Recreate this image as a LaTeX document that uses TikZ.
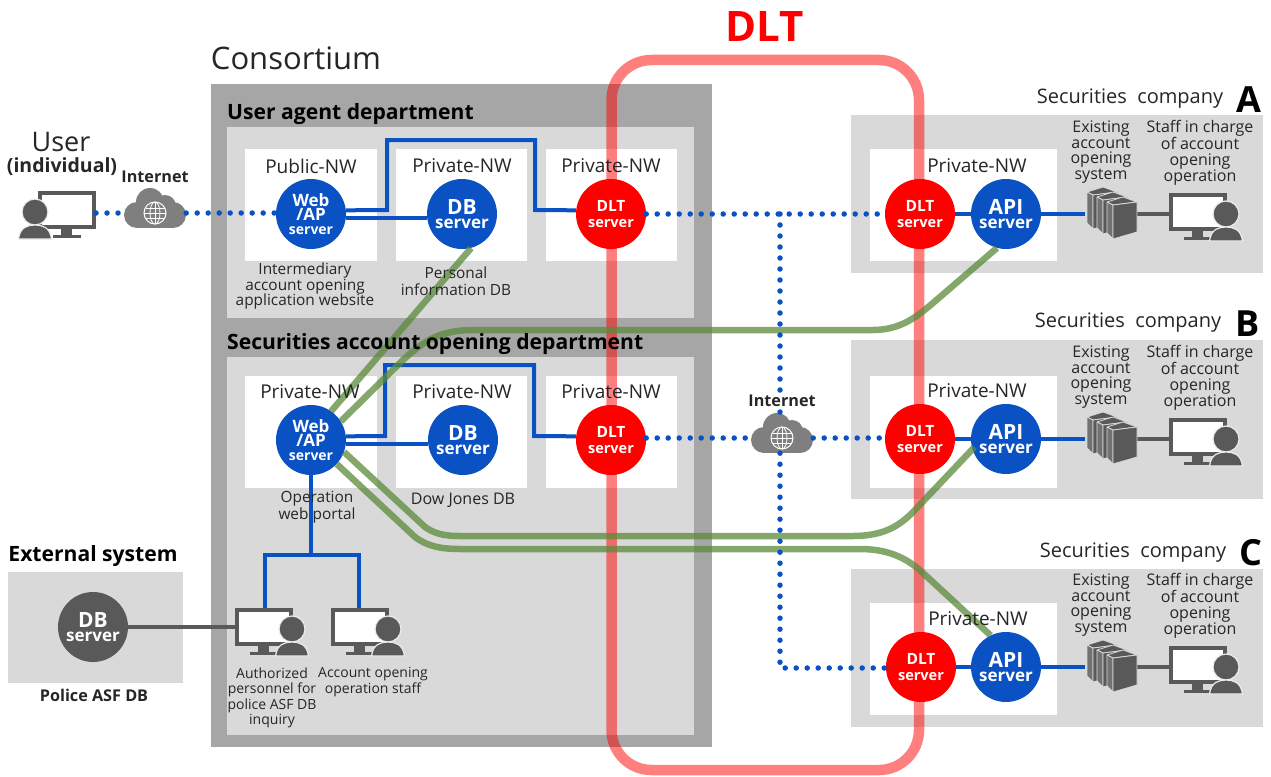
\documentclass[tikz,border=0pt]{standalone}
\usepackage{fontspec}
\setmainfont{Open Sans}
\usetikzlibrary{calc}
\definecolor{bluec}{HTML}{0A52C4}
\definecolor{redc}{HTML}{FF0000}
\definecolor{darkg}{HTML}{595959}
\definecolor{cloudg}{HTML}{7F7F7F}
\definecolor{outerg}{HTML}{A6A6A6}
\definecolor{innerg}{HTML}{D9D9D9}
\definecolor{greenc}{HTML}{5B8A3A}
\definecolor{txt}{HTML}{262626}
\pgfdeclarelayer{panel}\pgfdeclarelayer{band}\pgfdeclarelayer{conn}\pgfdeclarelayer{greenl}\pgfdeclarelayer{labels}
\pgfsetlayers{panel,band,conn,main,greenl,labels}
\tikzset{
  srv/.style={circle,minimum size=70pt,inner sep=0pt,text=white,align=center,font=\bfseries},
  bsrv/.style={srv,fill=bluec},
  rsrv/.style={srv,fill=redc},
  gsrv/.style={srv,fill=darkg},
  wbox/.style={fill=white},
  bl/.style={draw=bluec,line width=4pt,line join=miter},
  gl/.style={draw=darkg,line width=4pt},
  grn/.style={draw=greenc,line width=6.5pt,opacity=.75},
  dots/.style={draw=bluec,line width=5.5pt,line cap=round,dash pattern=on 0pt off 11pt},
  nw/.style={font=\fontsize{19}{19}\selectfont,text=txt,inner sep=0pt},
  lab/.style={font=\fontsize{15.4}{15.5}\selectfont,text=txt,align=center,inner sep=0pt},
  labs/.style={font=\fontsize{14}{15.5}\selectfont,text=txt,align=center,inner sep=0pt},
  labl/.style={font=\fontsize{16}{15.5}\selectfont,text=txt,align=center,inner sep=0pt},
  labb/.style={font=\fontsize{16.2}{17}\selectfont\bfseries,text=txt,inner sep=0pt},
  ttl/.style={font=\fontsize{21.1}{22}\selectfont\bfseries,text=black,anchor=west,inner sep=0pt},
  sec/.style={font=\fontsize{20}{22}\selectfont,text=txt,inner sep=0pt},
  letter/.style={font=\fontsize{36}{36}\selectfont\bfseries,text=black,inner sep=0pt},
  mon/.style={draw=darkg,line width=4pt,fill=white,minimum width=54pt,minimum height=34pt,inner sep=0pt},
  rackbox/.style={minimum width=52pt,minimum height=54pt,inner sep=0pt},
  cloudbox/.style={minimum width=62pt,minimum height=30pt,inner sep=0pt},
}
\newcommand{\twolab}[2]{\fontsize{21}{16}\selectfont #1\\[1.5pt]\fontsize{17}{16}\selectfont #2}
\newcommand{\dltlab}{\fontsize{15.5}{18}\selectfont DLT\\[4pt]\fontsize{14.5}{18}\selectfont server}
\newcommand{\weblab}{\fontsize{17}{15}\selectfont Web\\[1pt]\fontsize{17}{15}\selectfont /AP\\[1.5pt]\fontsize{14}{15}\selectfont server}
% monitor + person: name, monitor left, monitor top, head x
\newcommand{\staffic}[4]{%
  \node[mon,anchor=north west] (#1) at (#2,#3) {};
  \fill[darkg] (#2+23,#3+38) rectangle (#2+34,#3+44);
  \fill[darkg] (#2+15,#3+44) rectangle (#2+43,#3+47);
  \filldraw[fill=darkg,draw=innerg!50,line width=1.2pt] (#4,#3+21) circle (13pt);
  \filldraw[fill=darkg,draw=innerg!50,line width=1.2pt] (#4-16.5,#3+48) .. controls (#4-15,#3+36) and (#4-7,#3+34) .. (#4,#3+34) .. controls (#4+7,#3+34) and (#4+15,#3+36) .. (#4+16.5,#3+48) -- cycle;
}
\newcommand{\onerack}[2]{%
  \filldraw[fill=darkg,draw=innerg,line width=.8pt,line join=round] (#1-30,#2-12) -- (#1-14,#2-17) -- (#1,#2-12) -- (#1-24,#2-9) -- cycle;
  \filldraw[fill=darkg!85,draw=innerg,line width=.8pt,line join=round] (#1-30,#2-12) -- (#1-24,#2-9) -- (#1-24,#2+25) -- (#1-30,#2+19) -- cycle;
  \filldraw[fill=darkg,draw=innerg,line width=.8pt,line join=round] (#1-24,#2-9) -- (#1,#2-12) -- (#1,#2+18) -- (#1-24,#2+25) -- cycle;
}
\newcommand{\rackic}[2]{% name, centre y
  \node[rackbox] (#1) at (1111,#2) {};
  \onerack{1117}{#2-10}
  \onerack{1127}{#2-5}
  \onerack{1137}{#2}
}
\newcommand{\cloudic}[3]{% name, x, y of cloud centre
  \node[cloudbox] (#1) at (#2,#3+5) {};
  \fill[cloudg] (#2-18,#3+7) circle (13pt);
  \fill[cloudg] (#2+18,#3+7) circle (13pt);
  \fill[cloudg] (#2-5,#3-6) circle (14pt);
  \fill[cloudg] (#2+10,#3-2) circle (11pt);
  \fill[cloudg] (#2-18,#3+2) rectangle (#2+18,#3+20);
  \draw[white,line width=1pt] (#2,#3+5) circle (11pt);
  \draw[white,line width=.8pt] (#2,#3+5) ellipse (5pt and 11pt);
  \draw[white,line width=.8pt] (#2-11,#3+5) -- (#2+11,#3+5) (#2,#3-6) -- (#2,#3+16) (#2-9.5,#3) -- (#2+9.5,#3) (#2-9.5,#3+10) -- (#2+9.5,#3+10);
}
\begin{document}
\begin{tikzpicture}[x=1pt,y=-1pt]
\useasboundingbox (0,0) rectangle (1271,776);

\begin{pgfonlayer}{panel}
\fill[white] (0,0) rectangle (1271,776);
\fill[outerg] (211,84) rectangle (712,747);
\fill[innerg] (227,127) rectangle (694,318);
\fill[innerg] (227,357) rectangle (694,735);
\fill[innerg] (8,572) rectangle (183,683);
\fill[innerg] (851,115) rectangle (1263,273);
\fill[innerg] (851,340) rectangle (1263,499);
\fill[innerg] (851,569) rectangle (1263,727);
\foreach \y in {149,376}{
  \fill[wbox] (245,\y) rectangle (377,\y+112);
  \fill[wbox] (396,\y) rectangle (527,\y+112);
  \fill[wbox] (546,\y) rectangle (677,\y+112);
}
\fill[wbox] (870,149) rectangle (1057,261);
\fill[wbox] (870,376) rectangle (1057,488);
\fill[wbox] (870,603) rectangle (1057,715);
\end{pgfonlayer}

\begin{pgfonlayer}{band}
\draw[redc,line width=10.5pt,opacity=.5,rounded corners=40pt] (611.5,60) rectangle (919,770);
\end{pgfonlayer}

\node[bsrv] (w1) at (311,214) {\weblab};
\node[bsrv] (db1) at (462,214) {\twolab{DB}{server}};
\node[rsrv] (d1) at (611,214) {\dltlab};
\node[bsrv] (w2) at (311,440) {\weblab};
\node[bsrv] (db2) at (463,440) {\twolab{DB}{server}};
\node[rsrv] (d2) at (611,440) {\dltlab};
\node[rsrv] (da) at (920,214) {\dltlab};
\node[bsrv] (aa) at (1006,214) {\twolab{API}{server}};
\node[rsrv] (db) at (920,439) {\dltlab};
\node[bsrv] (ab) at (1006,439) {\twolab{API}{server}};
\node[rsrv] (dc) at (921,667) {\dltlab};
\node[bsrv] (ac) at (1006,667) {\twolab{API}{server}};
\node[gsrv] (ext) at (93,627) {\twolab{DB}{server}};

\staffic{user}{38}{191}{35}
\cloudic{c1}{155}{208}
\cloudic{c2}{782}{433}
\staffic{ins}{235}{608}{292}
\staffic{ops}{331}{608}{388}
\rackic{ra}{214}
\rackic{rb}{439}
\rackic{rc}{667}
\staffic{sa}{1169}{193}{1226}
\staffic{sb}{1169}{418}{1226}
\staffic{sc}{1169}{646}{1226}

\coordinate (jt) at (780,214);
\coordinate (jb) at (780,668);

\begin{pgfonlayer}{conn}
\draw[bl] (w1.6) -- (387,210) -- (387,140) -- (535,140) -- (535,210) -- (d1.174);
\draw[bl] (w1.353) -- (w1.353 -| db1.west);
\draw[bl] (w2.6) -- (385,436) -- (385,365) -- (534,365) -- (534,436) -- (d2.174);
\draw[bl] (w2.354) -- (w2.354 -| db2.west);
\draw[bl] (w2.south) -- (311,555);
\draw[bl] (265,608) -- (265,555) -- (359,555) -- (359,608);
\draw[bl] (da.east) -- (aa.west);
\draw[bl] (db.east) -- (ab.west);
\draw[bl] (dc.east) -- (ac.west);
\draw[bl] (aa.east) -- (ra.west);
\draw[bl] (ab.east) -- (rb.west);
\draw[bl] (ac.east) -- (rc.west);
\draw[gl] (ra.east) -- (ra.east -| sa.west);
\draw[gl] (rb.east) -- (rb.east -| sb.west);
\draw[gl] (rc.east) -- (rc.east -| sc.west);
\draw[gl] (ext.east) -- (ext.east -| ins.west);
\end{pgfonlayer}

\begin{pgfonlayer}{greenl}
\draw[grn] (w2.55) -- (db1.285);
\draw[grn] (w2.32) -- (403,360) .. controls (425,340) and (440,330) .. (475,330) -- (873,330) .. controls (905,330) and (922,312) .. (940,297) -- (aa.255);
\draw[grn,shorten >=-3pt] (w2.-20) -- (425,527) .. controls (434,533) and (442,536) .. (460,536) -- (853,536) .. controls (885,536) and (900,525) .. (913,512) -- (ab.197);
\draw[grn] (w2.-43) -- (415,537) .. controls (427,546) and (440,549) .. (460,549) -- (860,549) .. controls (885,549) and (905,556) .. (923,573) -- (ac.116);
\draw[dots] (user.east |- c1.west) -- (c1.west);
\draw[dots] (c1.east) -- (c1.east -| w1.west);
\draw[dots] (d1.east) -- (da.west);
\draw[dots] (jt) -- (jt |- c2.north);
\draw[dots] (jt |- c2.south) -- (jb) -- (jb -| dc.west);
\draw[dots] (d2.east |- c2.west) -- (c2.west);
\draw[dots] (c2.east) -- (c2.east -| db.west);
\end{pgfonlayer}

\begin{pgfonlayer}{labels}
\node[inner sep=0pt,text=redc,font=\fontsize{42}{44}\selectfont\bfseries] (dlt) at (765,27) {DLT};
\node[inner sep=0pt,text=txt,font=\fontsize{31}{32}\selectfont] (cons) at (296,58) {Consortium};
\node[ttl] (t1) at (227,114) {User agent department};
\node[ttl] (t2) at (227,344) {Securities account opening department};
\node[ttl,anchor=center] (t3) at (93,556) {External system};
\node[inner sep=0pt,text=txt,font=\fontsize{27}{28}\selectfont] (u1) at (61,142) {User};
\node[inner sep=0pt,text=txt,font=\fontsize{19.5}{20}\selectfont\bfseries] (u2) at (62,167) {(individual)};
\node[labb] (i1) at (155,177) {Internet};
\node[labb,fill=white,inner sep=1pt] (i2) at (782,401) {Internet};
\node[nw] (n1) at (311,166) {Public-NW};
\node[nw] (n2) at (462,166) {Private-NW};
\node[nw] (n3) at (611,166) {Private-NW};
\node[nw] (n4) at (310,392) {Private-NW};
\node[nw] (n5) at (462,392) {Private-NW};
\node[nw] (n6) at (611,392) {Private-NW};
\node[nw] (n7) at (977,166) {Private-NW};
\node[nw] (n8) at (977,391) {Private-NW};
\node[nw] (n9) at (978,619) {Private-NW};
\node[lab] (l1) at (305,286) {Intermediary\\account opening\\application website};
\node[lab] (l2) at (456,281) {Personal\\[1.5pt]information DB};
\node[lab] (l3) at (317,507) {Operation\\[1.5pt]web portal};
\node[labl] (l4) at (463,500) {Dow Jones DB};
\node[labs] (l5) at (272,698) {Authorized\\personnel for\\police ASF DB\\inquiry};
\node[labs] (l6) at (373,682) {Account opening\\operation staff};
\node[labb] (l7) at (94,695) {Police ASF DB};
\foreach \dy/\nm in {0/a,225/b,453/c}{
  \node[labl] (ex\nm) at (1101,152+\dy) {Existing\\account\\opening\\system};
  \node[labl] (st\nm) at (1200,153+\dy) {Staff in charge\\of account\\opening\\operation};
}
\node[sec] (sa1) at (1130,99) {Securities\ \ company};
\node[sec] (sb1) at (1128,323) {Securities\ \ company};
\node[sec] (sc1) at (1133,553) {Securities\ \ company};
\node[letter] (la) at (1249,100) {A};
\node[letter] (lb) at (1248,324) {B};
\node[letter] (lc) at (1251,553) {C};
\end{pgfonlayer}
\end{tikzpicture}
\end{document}
